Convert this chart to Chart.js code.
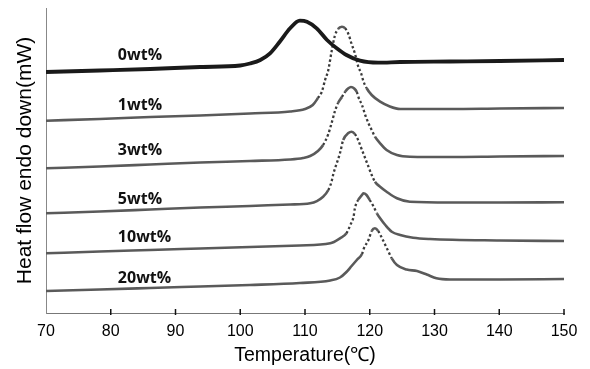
<!DOCTYPE html>
<html><head><meta charset="utf-8">
<script src="https://cdn.jsdelivr.net/npm/chart.js@4.4.1/dist/chart.umd.min.js"></script>
<style>html,body{margin:0;padding:0;background:#fff;}#wrap{width:590px;height:369px;}</style>
</head><body><div id="wrap"><canvas id="c" width="590" height="369"></canvas></div>
<script>
// ---- data ----
const seriesNames = ['0wt%', '1wt%', '3wt%', '5wt%', '10wt%', '20wt%'];
const xTickValues = [70, 80, 90, 100, 110, 120, 130, 140, 150];

const temp0 = [70, 78.3, 86.1, 93.8, 100.0, 101.5, 103.1, 104.6, 106.1, 107.7, 109.2, 110.3, 111.8, 113.4, 114.9, 116.4, 118.5, 121.3, 124.7, 132.4, 140.1, 150];
const flow0 = [241, 242.5, 244, 246, 247.5, 249.5, 253, 259.7, 271.3, 284.7, 292.3, 291.3, 284.7, 273, 264.7, 258, 252.3, 250.3, 251, 251.5, 252, 253];

const temp1 = [70, 78.3, 86.1, 93.8, 101.5, 107.7, 110.0, 111.2, 112.0, 112.6, 113.1, 113.6, 114.1, 114.6, 115.1, 115.7, 116.2, 116.7, 117.2, 117.7, 118.2, 118.7, 119.0, 119.5, 120.3, 121.6, 123.1, 124.7, 132.4, 140.1, 150];
const flow1 = [192.3, 194, 196, 197.5, 199.5, 201.5, 204, 208, 215, 221.3, 233, 243, 261.3, 277, 284, 286.3, 284.7, 279, 269, 259.7, 247, 239, 232, 225, 218, 211.3, 206.5, 204, 204, 204.5, 205];

const temp3 = [70, 78.3, 86.1, 93.8, 101.5, 107.7, 109.7, 110.8, 112.0, 112.8, 113.6, 114.1, 114.6, 115.1, 115.7, 116.2, 116.7, 117.1, 117.6, 118.0, 118.3, 118.8, 119.3, 119.8, 120.3, 120.8, 121.6, 122.6, 124.2, 126.2, 132.4, 140.1, 150];
const flow3 = [144.7, 146.5, 148.5, 150.5, 152, 153.5, 155, 157, 162, 168, 179, 189.7, 201.3, 210, 216, 221.3, 224.7, 226, 224.5, 221, 215, 208, 198, 189.7, 183, 176.3, 169.7, 163, 158, 156.3, 156, 156.5, 157];

const temp5 = [70, 78.3, 86.1, 93.8, 101.5, 107.7, 110.8, 112.8, 113.6, 114.1, 114.4, 114.9, 115.4, 115.9, 116.7, 117.2, 117.7, 118.2, 118.8, 119.3, 119.8, 120.3, 120.8, 121.6, 122.6, 124.2, 126.2, 132.4, 140.1, 150];
const flow5 = [99.7, 101.5, 103.5, 105.5, 107, 108.5, 109.7, 116.3, 123, 131.3, 139.7, 149.7, 159.7, 173, 180, 181.3, 179, 173, 163, 154.7, 146.3, 138, 131.3, 126.3, 121.3, 114.7, 111.3, 110.5, 110.5, 110.7];

const temp10 = [70, 78.3, 86.1, 93.8, 101.5, 109.2, 113.9, 115.4, 116.4, 117.0, 117.5, 117.7, 118.2, 118.8, 119.0, 119.5, 120.0, 120.6, 121.1, 121.6, 122.4, 123.4, 124.7, 126.7, 129.3, 140.1, 150];
const flow10 = [59.7, 61.5, 63, 64.5, 66, 67.5, 69.7, 74.7, 79.7, 88, 96.3, 104.7, 113, 118, 119.7, 118, 113, 106.3, 99.7, 94.7, 88, 81.3, 78, 75.3, 74, 72.5, 72];

const temp20 = [70, 78.3, 86.1, 93.8, 101.5, 109.2, 113.9, 115.4, 116.4, 117.2, 118.0, 118.8, 119.1, 119.8, 120.3, 120.8, 121.3, 121.9, 122.4, 122.9, 123.4, 124.2, 125.7, 127.3, 128.8, 130.3, 132.4, 140.1, 150];
const flow20 = [22, 23.5, 25, 26.5, 28, 30, 32.5, 35.5, 41, 47, 53, 59, 64.7, 73, 82, 84.7, 82, 74.7, 68, 61.3, 54.7, 48, 43.5, 42, 38.5, 34.7, 33.5, 33.5, 34];

// label anchors, in data units (temperature, heat-flow offset)
const labelTemp = [81.1, 81.1, 81.1, 81.1, 81.1, 81.1];
const labelFlow = [258, 208, 163, 114, 76, 35];

// ---- chart ----
const temps = [temp0, temp1, temp3, temp5, temp10, temp20];
const flows = [flow0, flow1, flow3, flow5, flow10, flow20];

const steep = ctx => Math.abs(ctx.p1.y - ctx.p0.y) > 1.6 * Math.abs(ctx.p1.x - ctx.p0.x);

const datasets = seriesNames.map((name, i) => {
  const first = i === 0;
  return {
    label: name,
    data: temps[i].map((t, k) => ({ x: t, y: flows[i][k] })),
    borderColor: first ? '#1a1a1a' : '#5a5a5a',
    borderWidth: first ? 3.8 : 2.6,
    pointRadius: 0,
    fill: false,
    cubicInterpolationMode: 'monotone',
    segment: first ? {} : {
      borderDash: ctx => steep(ctx) ? [2.4, 2.4] : undefined,
      borderWidth: ctx => steep(ctx) ? 2.3 : undefined,
      borderColor: ctx => steep(ctx) ? '#3a3a3a' : undefined
    }
  };
});

const crossTicks = {
  id: 'crossTicks',
  afterDraw(chart) {
    const xs = chart.scales.x, ctx = chart.ctx;
    ctx.save();
    ctx.strokeStyle = '#111';
    ctx.lineWidth = 1.5;
    xs.ticks.forEach((t, i) => {
      if (i === 0) return;
      const px = xs.getPixelForValue(t.value);
      ctx.beginPath();
      ctx.moveTo(px, xs.top - 4);
      ctx.lineTo(px, xs.top + 2);
      ctx.stroke();
    });
    ctx.restore();
  }
};

const seriesLabels = {
  id: 'seriesLabels',
  afterDatasetsDraw(chart) {
    const xs = chart.scales.x, ys = chart.scales.y, ctx = chart.ctx;
    ctx.save();
    ctx.fillStyle = '#111';
    ctx.font = 'bold 16px "Open Sans", "Liberation Sans", sans-serif';
    ctx.textAlign = 'left';
    ctx.textBaseline = 'middle';
    seriesNames.forEach((n, i) => {
      ctx.fillText(n, xs.getPixelForValue(labelTemp[i]), ys.getPixelForValue(labelFlow[i]));
    });
    ctx.restore();
  }
};

new Chart(document.getElementById('c'), {
  type: 'line',
  data: { datasets },
  options: {
    responsive: false,
    devicePixelRatio: 1,
    animation: false,
    layout: { padding: { top: 8, right: 26, left: 0, bottom: 0 } },
    plugins: { legend: { display: false }, tooltip: { enabled: false } },
    scales: {
      x: {
        type: 'linear', min: 70, max: 150,
        afterBuildTicks: s => { s.ticks = xTickValues.map(v => ({ value: v })); },
        ticks: { color: '#000', font: { family: '"Liberation Sans", Arial, sans-serif', size: 16 }, padding: 9, maxRotation: 0, autoSkip: false },
        grid: { display: false, drawTicks: false },
        border: { display: true, color: '#777', width: 1 },
        title: { display: true, text: 'Temperature(℃)', color: '#000', font: { family: '"Liberation Sans", Arial, sans-serif', size: 19.5 }, padding: { top: 0, bottom: 2 } },
        afterFit: s => { s.height = 56; }
      },
      y: {
        type: 'linear', min: 0, max: 305,
        ticks: { display: false },
        grid: { display: false, drawTicks: false },
        border: { display: true, color: '#888', width: 1, dash: [2, 2] },
        title: { display: true, text: 'Heat flow endo down(mW)', color: '#000', font: { family: '"Liberation Sans", Arial, sans-serif', size: 21 }, padding: { top: 13, bottom: 0 } },
        afterFit: s => { s.width = 46; }
      }
    }
  },
  plugins: [crossTicks, seriesLabels]
});
</script></body></html>
